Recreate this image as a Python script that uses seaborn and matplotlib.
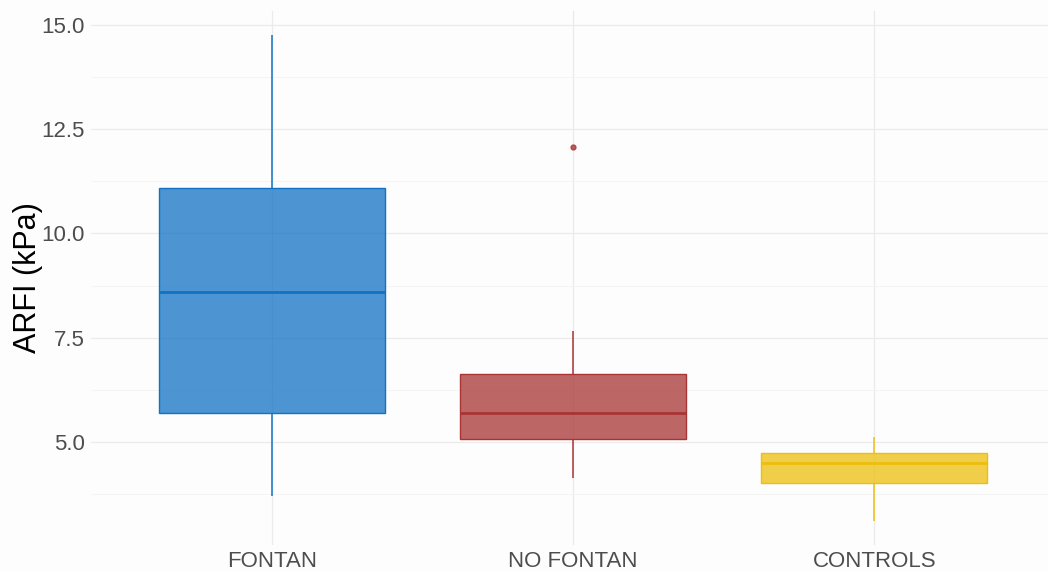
import matplotlib
matplotlib.use("Agg")
import matplotlib.pyplot as plt
import seaborn as sns
import pandas as pd
from matplotlib.colors import to_rgba
from matplotlib.ticker import MultipleLocator

# Groups and observations (ARFI stiffness, kPa)
categories = ["FONTAN", "NO FONTAN", "CONTROLS"]
fontan = [3.70, 5.70, 8.60, 11.09, 14.76]
no_fontan = [4.14, 5.07, 5.07, 5.70, 5.70, 6.63, 6.63, 7.66, 12.07]
controls = [3.11, 4.02, 4.50, 4.74, 5.12]
y_ticks = [5.0, 7.5, 10.0, 12.5, 15.0]

line_colors = ["#1272C4", "#A83434", "#ECBF0C"]
fill_alpha = 0.75

df = pd.DataFrame({
    "group": ["FONTAN"] * len(fontan) + ["NO FONTAN"] * len(no_fontan) + ["CONTROLS"] * len(controls),
    "ARFI": fontan + no_fontan + controls,
})

sns.set_theme(style="whitegrid")
plt.rcParams["font.family"] = ["Liberation Sans", "DejaVu Sans"]

fig = plt.figure(figsize=(10.48, 5.72), dpi=100, facecolor="#FDFDFD")
ax = fig.add_axes([91 / 1048, 27 / 572, (1055 - 91) / 1048, (545 - 10.8) / 572])
ax.set_facecolor("#FDFDFD")

for cat, col in zip(categories, line_colors):
    sub = df[df["group"] == cat]
    sns.boxplot(
        data=sub, x="group", y="ARFI", order=categories, ax=ax,
        color=col, linecolor=col, saturation=1, width=0.75, linewidth=1.0,
        showcaps=False,
        whiskerprops=dict(linewidth=1.1),
        medianprops=dict(linewidth=2.0, color=col),
        flierprops=dict(marker="o", markersize=3.5, markerfacecolor=col,
                        markeredgecolor=col, alpha=0.8),
    )
    cont = ax.containers[-1]
    for box in cont.boxes:
        box.set_facecolor(to_rgba(col, fill_alpha))
        box.set_edgecolor(col)

ax.set_xlim(-0.6, 2.6)
ax.set_ylim(2.53, 15.34)
ax.yaxis.set_major_locator(MultipleLocator(2.5))
ax.yaxis.set_minor_locator(MultipleLocator(1.25))
ax.set_yticks(y_ticks)
ax.set_yticklabels([f"{v:.1f}" for v in y_ticks])

ax.grid(True, which="major", color="#EBEBEB", linewidth=0.9)
ax.grid(True, which="minor", axis="y", color="#F3F3F3", linewidth=0.6)
ax.set_axisbelow(True)
for s in ax.spines.values():
    s.set_visible(False)

ax.tick_params(axis="both", which="major", length=2.5, width=0.7, color="#555555",
               labelcolor="#4D4D4D", labelsize=16, pad=2)
ax.tick_params(axis="y", which="minor", length=0)
ax.set_xlabel("")
ax.set_ylabel("ARFI (kPa)", fontsize=22, color="black")
ax.yaxis.set_label_coords(-48 / 964, 0.5)

fig.savefig("out.png", dpi=100, facecolor=fig.get_facecolor())
